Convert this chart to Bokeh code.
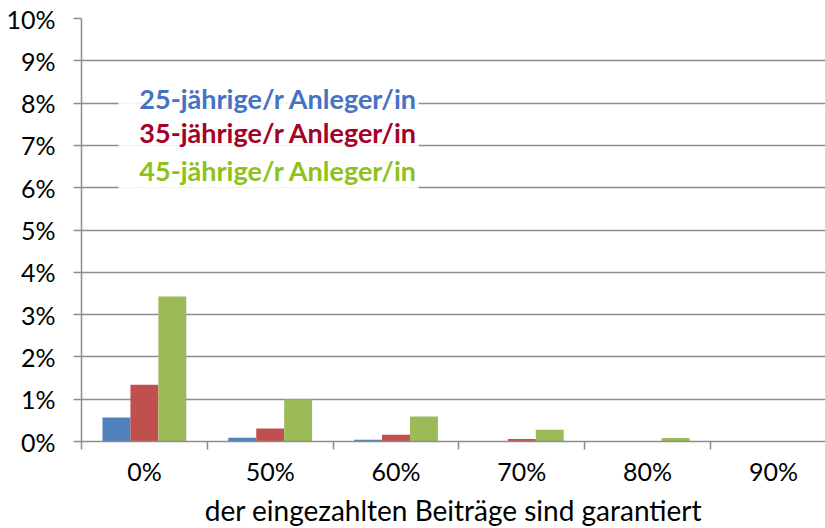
from bokeh.plotting import figure
from bokeh.models import FixedTicker, Range1d, Label
from bokeh.embed import file_html
from bokeh.resources import INLINE
import numpy as np

categories = ["0%", "50%", "60%", "70%", "80%", "90%"]
series_names = ["25-jährige/r Anleger/in", "35-jährige/r Anleger/in", "45-jährige/r Anleger/in"]
age25 = [0.57, 0.09, 0.04, 0.01, 0.0, 0.0]
age35 = [1.34, 0.31, 0.16, 0.06, 0.01, 0.0]
age45 = [3.43, 0.99, 0.59, 0.28, 0.08, 0.0]
y_ticks = list(range(0, 11))
x_title = "der eingezahlten Beiträge sind garantiert"

bar_colors = ["#4F81BD", "#C0504D", "#9BBB59"]
text_colors = ["#4472C4", "#A50026", "#8DC21A"]
grid_color = "#8c8c8c"

p = figure(frame_width=744, frame_height=423, output_backend="svg", toolbar_location=None,
           x_range=Range1d(0, 5.914), y_range=Range1d(0, 10),
           min_border_left=81, min_border_right=0, min_border_top=18, min_border_bottom=87)
p.outline_line_color = None
p.background_fill_color = "white"
p.border_fill_color = "white"

centers = np.arange(len(categories)) + 0.5
bw = 0.222
for i, (vals, col) in enumerate(zip([age25, age35, age45], bar_colors)):
    p.vbar(x=centers + (i - 1) * bw, top=vals, width=bw, bottom=0,
           fill_color=col, line_color=None)

# x axis
xa = p.xaxis[0]
xa.ticker = FixedTicker(ticks=list(centers), minor_ticks=list(range(len(categories) + 1)))
xa.major_label_overrides = {float(c): lab for c, lab in zip(centers, categories)}
xa.major_tick_out = 0
xa.major_tick_in = 0
xa.minor_tick_out = 8
xa.minor_tick_in = 0
xa.minor_tick_line_color = grid_color
xa.minor_tick_line_width = 1.5
xa.axis_line_color = grid_color
xa.axis_line_width = 1.5
xa.major_label_text_font = "Lato"
xa.major_label_text_font_size = "25px"
xa.major_label_text_color = "black"
xa.major_label_standoff = 6
xa.axis_label = x_title
xa.axis_label_text_font = "Lato"
xa.axis_label_text_font_style = "normal"
xa.axis_label_text_font_size = "28px"
xa.axis_label_text_color = "black"
xa.axis_label_standoff = 4

# y axis
ya = p.yaxis[0]
ya.ticker = FixedTicker(ticks=y_ticks)
ya.major_label_overrides = {t: f"{t}%" for t in y_ticks}
ya.major_tick_out = 8
ya.major_tick_in = 0
ya.minor_tick_out = 0
ya.minor_tick_in = 0
ya.major_tick_line_color = grid_color
ya.major_tick_line_width = 1.5
ya.axis_line_color = grid_color
ya.axis_line_width = 1.5
ya.major_label_text_font = "Lato"
ya.major_label_text_font_size = "25px"
ya.major_label_text_color = "black"
ya.major_label_standoff = 18

p.xgrid.grid_line_color = None
p.ygrid.ticker = FixedTicker(ticks=y_ticks)
p.ygrid.grid_line_color = grid_color
p.ygrid.grid_line_width = 1.5

# legend-like text box (covers the grid lines, with faint dotted traces)
p.quad(left=[0.294], right=[2.68], bottom=[5.75], top=[8.6],
       fill_color="white", line_color=None)
p.segment(x0=[0.294] * 3, x1=[2.68] * 3, y0=[6, 7, 8], y1=[6, 7, 8],
          line_color="#cfcfcf", line_width=1, line_dash="1 2")
for name, col, yy in zip(series_names, text_colors, [8.1, 7.3, 6.4]):
    p.add_layout(Label(x=0.46, y=yy, text=name, text_color=col, text_font="Lato",
                       text_font_style="bold", text_font_size="27px", text_baseline="middle",
                       text_align="left"))

open("out.html", "w").write(file_html(p, INLINE))
